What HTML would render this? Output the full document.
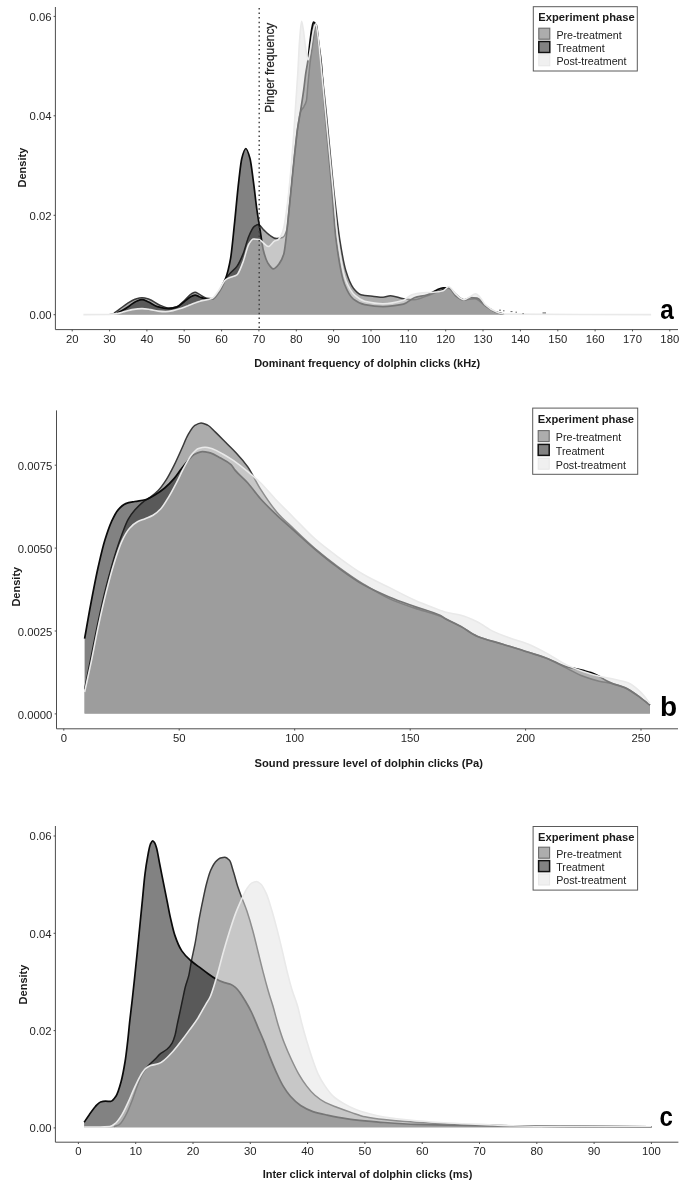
<!DOCTYPE html>
<html><head><meta charset="utf-8"><title>Density plots</title>
<style>
html,body{margin:0;padding:0;background:#fff;}
body{width:685px;height:1192px;overflow:hidden;}
svg{display:block;filter:grayscale(1);}
text{font-family:"Liberation Sans",sans-serif;}
.tk{font-size:11.3px;fill:#262626;}
.at{font-size:11px;font-weight:bold;fill:#1a1a1a;}
.lt{font-size:11.2px;font-weight:bold;fill:#1a1a1a;}
.ll{font-size:10.7px;fill:#222;}
.pl{font-size:28px;font-weight:bold;fill:#000;}
.pg{font-size:13px;fill:#222;}
</style></head><body>
<svg width="685" height="1192" viewBox="0 0 685 1192">
<rect width="685" height="1192" fill="#fff"/>
<!-- panel a -->
<path d="M83.4 314.6 L83.4 314.6C90.9 314.5 98.3 314.5 105.8 314.4C108.6 314.3 111.3 313.8 114.0 313.1C115.9 312.6 117.8 310.5 119.6 309.1C122.1 307.3 124.6 305.3 127.1 303.7C129.7 302.0 132.3 300.0 134.9 299.2C137.3 298.5 139.7 297.7 142.0 297.7C144.4 297.7 146.8 298.5 149.1 299.2C152.4 300.2 155.6 303.3 158.9 304.7C162.2 306.1 165.6 308.1 168.9 308.1C171.6 308.1 174.2 307.5 176.8 306.6C179.3 305.9 181.8 302.8 184.2 300.7C186.7 298.5 189.2 295.2 191.7 293.7C192.8 293.1 194.0 292.2 195.1 292.2C196.5 292.2 197.8 293.5 199.2 294.2C201.7 295.5 204.2 297.8 206.7 298.2C208.5 298.5 210.4 298.7 212.3 298.7C214.1 298.7 216.0 295.6 217.9 293.2C220.4 290.0 223.0 282.5 225.5 278.8C227.2 276.4 228.9 274.7 230.6 272.8C232.7 270.5 234.8 269.2 236.9 266.4C238.9 263.7 240.9 259.3 242.9 254.4C244.9 249.6 246.9 240.6 248.9 236.0C250.6 232.1 252.4 227.9 254.1 226.6C255.5 225.6 256.8 224.6 258.2 224.6C259.9 224.6 261.7 228.0 263.4 229.6C265.4 231.4 267.4 233.8 269.4 235.0C271.8 236.6 274.1 238.5 276.5 238.5C278.5 238.5 280.5 238.2 282.5 237.5C284.0 237.1 285.5 234.2 287.0 229.1C287.6 227.0 288.2 218.6 288.8 212.7C289.6 205.5 290.3 197.0 291.1 189.3C292.2 178.5 293.2 167.5 294.3 157.5C295.4 147.8 296.4 137.4 297.4 130.1C298.5 122.7 299.5 114.4 300.6 111.7C301.7 109.1 302.7 108.7 303.8 106.8C304.6 105.1 305.5 104.3 306.4 100.8C306.9 98.8 307.4 90.1 307.9 84.9C308.6 77.5 309.3 69.5 310.0 63.5C311.0 54.7 312.1 48.6 313.1 41.1C313.7 36.7 314.4 29.6 315.0 27.7C315.5 26.2 316.0 24.7 316.5 24.7C317.0 24.7 317.5 31.9 318.0 36.2C318.7 42.6 319.5 51.5 320.2 58.5C321.8 73.4 323.4 85.0 324.9 99.8C326.5 114.1 328.0 130.4 329.5 146.0C331.0 161.3 332.5 178.5 334.0 192.3C335.9 209.5 337.8 226.6 339.6 238.5C341.7 252.0 343.9 264.6 346.0 271.3C348.5 279.3 351.0 285.1 353.4 288.2C355.9 291.4 358.4 294.1 360.9 294.7C365.3 295.8 369.6 295.9 374.0 296.4C377.0 296.7 380.0 297.2 383.0 297.2C385.4 297.2 387.9 295.7 390.4 295.7C394.8 295.7 399.1 298.1 403.5 298.7C407.1 299.2 410.7 299.7 414.3 299.7C418.7 299.7 423.0 297.2 427.4 295.7C430.4 294.7 433.4 293.3 436.4 292.2C440.5 290.8 444.6 288.2 448.7 288.2C451.2 288.2 453.7 292.9 456.2 294.7C458.8 296.6 461.4 299.7 464.0 299.7C467.6 299.7 471.2 298.7 474.8 298.7C478.3 298.7 481.8 303.4 485.3 305.7C488.8 307.9 492.3 310.9 495.7 312.1C498.4 313.0 501.0 314.1 503.6 314.1C552.8 314.6 601.9 314.4 651.1 314.6L651.1 314.6Z" fill="#595959" fill-opacity="0.5"/>
<path d="M114.0 313.1C115.9 311.8 117.8 310.5 119.6 309.1C122.1 307.3 124.6 305.3 127.1 303.7C129.7 302.0 132.3 300.0 134.9 299.2C137.3 298.5 139.7 297.7 142.0 297.7C144.4 297.7 146.8 298.5 149.1 299.2C152.4 300.2 155.6 303.3 158.9 304.7C162.2 306.1 165.6 308.1 168.9 308.1C171.6 308.1 174.2 307.5 176.8 306.6C179.3 305.9 181.8 302.8 184.2 300.7C186.7 298.5 189.2 295.2 191.7 293.7C192.8 293.1 194.0 292.2 195.1 292.2C196.5 292.2 197.8 293.5 199.2 294.2C201.7 295.5 204.2 297.8 206.7 298.2C208.5 298.5 210.4 298.7 212.3 298.7C214.1 298.7 216.0 295.6 217.9 293.2C220.4 290.0 223.0 282.5 225.5 278.8C227.2 276.4 228.9 274.7 230.6 272.8C232.7 270.5 234.8 269.2 236.9 266.4C238.9 263.7 240.9 259.3 242.9 254.4C244.9 249.6 246.9 240.6 248.9 236.0C250.6 232.1 252.4 227.9 254.1 226.6C255.5 225.6 256.8 224.6 258.2 224.6C259.9 224.6 261.7 228.0 263.4 229.6C265.4 231.4 267.4 233.8 269.4 235.0C271.8 236.6 274.1 238.5 276.5 238.5C278.5 238.5 280.5 238.2 282.5 237.5C284.0 237.1 285.5 234.2 287.0 229.1C287.6 227.0 288.2 218.6 288.8 212.7C289.6 205.5 290.3 197.0 291.1 189.3C292.2 178.5 293.2 167.5 294.3 157.5C295.4 147.8 296.4 137.4 297.4 130.1C298.5 122.7 299.5 114.4 300.6 111.7C301.7 109.1 302.7 108.7 303.8 106.8C304.6 105.1 305.5 104.3 306.4 100.8C306.9 98.8 307.4 90.1 307.9 84.9C308.6 77.5 309.3 69.5 310.0 63.5C311.0 54.7 312.1 48.6 313.1 41.1C313.7 36.7 314.4 29.6 315.0 27.7C315.5 26.2 316.0 24.7 316.5 24.7C317.0 24.7 317.5 31.9 318.0 36.2C318.7 42.6 319.5 51.5 320.2 58.5C321.8 73.4 323.4 85.0 324.9 99.8C326.5 114.1 328.0 130.4 329.5 146.0C331.0 161.3 332.5 178.5 334.0 192.3C335.9 209.5 337.8 226.6 339.6 238.5C341.7 252.0 343.9 264.6 346.0 271.3C348.5 279.3 351.0 285.1 353.4 288.2C355.9 291.4 358.4 294.1 360.9 294.7C365.3 295.8 369.6 295.9 374.0 296.4C377.0 296.7 380.0 297.2 383.0 297.2C385.4 297.2 387.9 295.7 390.4 295.7C394.8 295.7 399.1 298.1 403.5 298.7C407.1 299.2 410.7 299.7 414.3 299.7C418.7 299.7 423.0 297.2 427.4 295.7C430.4 294.7 433.4 293.3 436.4 292.2C440.5 290.8 444.6 288.2 448.7 288.2C451.2 288.2 453.7 292.9 456.2 294.7C458.8 296.6 461.4 299.7 464.0 299.7C467.6 299.7 471.2 298.7 474.8 298.7C478.3 298.7 481.8 303.4 485.3 305.7C488.8 307.9 492.3 310.9 495.7 312.1C498.4 313.0 501.0 313.4 503.6 314.1" fill="none" stroke="#3a3a3a" stroke-width="1.5" stroke-linejoin="round"/>
<path d="M83.4 314.6 L83.4 314.6C90.9 314.5 98.3 314.5 105.8 314.4C109.5 314.3 113.3 313.8 117.0 313.1C119.0 312.7 121.0 311.3 123.0 310.1C125.2 308.9 127.5 307.1 129.7 305.7C132.0 304.2 134.2 302.0 136.4 301.2C138.3 300.5 140.2 299.7 142.0 299.7C144.0 299.7 146.0 300.9 148.0 301.7C151.1 302.9 154.2 305.8 157.4 306.6C161.2 307.7 165.1 308.6 168.9 308.6C171.6 308.6 174.2 307.9 176.8 307.1C179.3 306.4 181.8 303.5 184.2 301.7C186.7 299.8 189.2 297.2 191.7 296.2C192.8 295.8 194.0 295.2 195.1 295.2C196.5 295.2 197.8 296.2 199.2 296.7C201.7 297.6 204.2 299.2 206.7 299.2C208.5 299.2 210.4 299.2 212.3 299.2C214.1 299.2 216.0 296.1 217.9 293.7C220.4 290.5 223.0 285.7 225.5 278.8C227.2 274.3 228.9 267.9 230.6 258.4C231.9 250.7 233.3 234.5 234.7 221.6C236.0 208.7 237.4 192.5 238.8 180.9C239.8 172.4 240.8 162.2 241.8 158.5C243.1 153.3 244.5 148.5 245.9 148.5C247.2 148.5 248.6 153.5 250.0 158.5C251.1 162.5 252.2 172.7 253.3 180.9C254.6 189.9 255.8 202.4 257.1 211.2C258.2 219.1 259.3 225.1 260.4 232.1C261.4 238.2 262.4 246.5 263.4 250.5C264.8 256.0 266.2 260.2 267.5 262.4C269.5 265.6 271.5 268.9 273.5 268.9C275.4 268.9 277.3 266.3 279.1 263.9C280.7 261.9 282.2 259.2 283.8 253.9C285.2 249.2 286.6 232.8 288.0 220.1C289.0 210.8 290.1 199.1 291.1 188.8C292.2 178.1 293.2 167.0 294.3 157.0C295.4 147.3 296.4 137.0 297.4 129.6C298.5 122.1 299.5 117.4 300.6 110.7C301.6 104.2 302.7 97.4 303.7 89.9C304.4 84.7 305.1 77.8 305.8 73.0C306.5 68.3 307.2 65.5 307.9 60.5C308.6 55.4 309.3 47.2 310.0 41.6C310.7 36.5 311.3 30.8 312.0 27.7C312.5 25.4 313.0 22.2 313.5 22.2C313.9 22.2 314.2 22.5 314.6 22.7C315.1 23.1 315.6 24.6 316.1 26.2C317.0 29.1 317.8 37.4 318.7 43.6C319.6 49.8 320.5 54.9 321.3 63.5C322.2 72.1 323.1 88.9 323.9 99.8C325.3 117.0 326.7 130.6 328.0 146.0C329.4 161.5 330.8 176.1 332.2 192.3C333.4 207.0 334.6 228.7 335.9 238.5C338.8 261.0 341.6 277.0 344.5 284.3C347.5 291.9 350.5 296.9 353.4 299.2C357.2 302.1 360.9 304.0 364.7 304.7C370.8 305.8 376.9 306.6 383.0 306.6C389.8 306.6 396.6 305.6 403.5 304.2C407.1 303.4 410.7 298.9 414.3 297.7C418.7 296.2 423.0 296.1 427.4 294.7C430.4 293.8 433.4 291.5 436.4 290.2C438.6 289.3 440.8 287.8 443.1 287.8C445.0 287.8 446.8 287.8 448.7 287.8C451.2 287.8 453.7 294.5 456.2 296.2C458.8 298.0 461.4 300.2 464.0 300.2C466.2 300.2 468.5 297.7 470.7 297.7C472.8 297.7 475.0 297.9 477.1 298.2C479.8 298.6 482.6 303.6 485.3 305.7C488.8 308.2 492.3 310.9 495.7 312.1C498.4 313.0 501.0 314.0 503.6 314.1C509.2 314.3 514.8 314.4 520.4 314.5C564.0 314.6 607.5 314.6 651.1 314.6L651.1 314.6Z" fill="#060606" fill-opacity="0.5"/>
<path d="M117.0 313.1C119.0 312.1 121.0 311.3 123.0 310.1C125.2 308.9 127.5 307.1 129.7 305.7C132.0 304.2 134.2 302.0 136.4 301.2C138.3 300.5 140.2 299.7 142.0 299.7C144.0 299.7 146.0 300.9 148.0 301.7C151.1 302.9 154.2 305.8 157.4 306.6C161.2 307.7 165.1 308.6 168.9 308.6C171.6 308.6 174.2 307.9 176.8 307.1C179.3 306.4 181.8 303.5 184.2 301.7C186.7 299.8 189.2 297.2 191.7 296.2C192.8 295.8 194.0 295.2 195.1 295.2C196.5 295.2 197.8 296.2 199.2 296.7C201.7 297.6 204.2 299.2 206.7 299.2C208.5 299.2 210.4 299.2 212.3 299.2C214.1 299.2 216.0 296.1 217.9 293.7C220.4 290.5 223.0 285.7 225.5 278.8C227.2 274.3 228.9 267.9 230.6 258.4C231.9 250.7 233.3 234.5 234.7 221.6C236.0 208.7 237.4 192.5 238.8 180.9C239.8 172.4 240.8 162.2 241.8 158.5C243.1 153.3 244.5 148.5 245.9 148.5C247.2 148.5 248.6 153.5 250.0 158.5C251.1 162.5 252.2 172.7 253.3 180.9C254.6 189.9 255.8 202.4 257.1 211.2C258.2 219.1 259.3 225.1 260.4 232.1C261.4 238.2 262.4 246.5 263.4 250.5C264.8 256.0 266.2 260.2 267.5 262.4C269.5 265.6 271.5 268.9 273.5 268.9C275.4 268.9 277.3 266.3 279.1 263.9C280.7 261.9 282.2 259.2 283.8 253.9C285.2 249.2 286.6 232.8 288.0 220.1C289.0 210.8 290.1 199.1 291.1 188.8C292.2 178.1 293.2 167.0 294.3 157.0C295.4 147.3 296.4 137.0 297.4 129.6C298.5 122.1 299.5 117.4 300.6 110.7C301.6 104.2 302.7 97.4 303.7 89.9C304.4 84.7 305.1 77.8 305.8 73.0C306.5 68.3 307.2 65.5 307.9 60.5C308.6 55.4 309.3 47.2 310.0 41.6C310.7 36.5 311.3 30.8 312.0 27.7C312.5 25.4 313.0 22.2 313.5 22.2C313.9 22.2 314.2 22.5 314.6 22.7C315.1 23.1 315.6 24.6 316.1 26.2C317.0 29.1 317.8 37.4 318.7 43.6C319.6 49.8 320.5 54.9 321.3 63.5C322.2 72.1 323.1 88.9 323.9 99.8C325.3 117.0 326.7 130.6 328.0 146.0C329.4 161.5 330.8 176.1 332.2 192.3C333.4 207.0 334.6 228.7 335.9 238.5C338.8 261.0 341.6 277.0 344.5 284.3C347.5 291.9 350.5 296.9 353.4 299.2C357.2 302.1 360.9 304.0 364.7 304.7C370.8 305.8 376.9 306.6 383.0 306.6C389.8 306.6 396.6 305.6 403.5 304.2C407.1 303.4 410.7 298.9 414.3 297.7C418.7 296.2 423.0 296.1 427.4 294.7C430.4 293.8 433.4 291.5 436.4 290.2C438.6 289.3 440.8 287.8 443.1 287.8C445.0 287.8 446.8 287.8 448.7 287.8C451.2 287.8 453.7 294.5 456.2 296.2C458.8 298.0 461.4 300.2 464.0 300.2C466.2 300.2 468.5 297.7 470.7 297.7C472.8 297.7 475.0 297.9 477.1 298.2C479.8 298.6 482.6 303.6 485.3 305.7C488.8 308.2 492.3 310.9 495.7 312.1C498.4 313.0 501.0 313.4 503.6 314.1" fill="none" stroke="#0a0a0a" stroke-width="1.7" stroke-linejoin="round"/>
<path d="M83.4 314.6 L83.4 314.6C92.1 314.5 100.8 314.5 109.6 314.4C112.0 314.3 114.5 314.0 117.0 313.6C119.5 313.2 122.0 312.3 124.5 311.6C127.0 311.0 129.5 310.0 132.0 309.6C135.3 309.1 138.7 308.6 142.0 308.6C144.9 308.6 147.8 309.2 150.6 309.6C153.1 310.0 155.6 310.9 158.1 311.1C160.6 311.4 163.1 311.6 165.6 311.6C168.1 311.6 170.6 311.1 173.0 310.6C175.5 310.2 178.0 309.4 180.5 308.6C183.0 307.8 185.5 306.6 188.0 305.7C190.5 304.7 193.0 303.6 195.5 302.7C196.9 302.1 198.4 301.6 199.9 301.2C204.0 300.0 208.2 300.0 212.3 298.2C214.3 297.3 216.2 293.9 218.2 291.2C220.7 288.0 223.1 281.6 225.5 279.8C227.2 278.6 228.9 278.0 230.6 277.3C232.7 276.4 234.8 276.2 236.9 274.8C238.9 273.5 240.9 267.3 242.9 262.4C244.9 257.4 246.9 247.2 248.9 244.0C250.4 241.6 251.9 239.0 253.3 239.0C255.3 239.0 257.3 239.2 259.3 239.5C260.7 239.7 262.1 241.9 263.4 243.0C265.1 244.3 266.7 246.5 268.3 246.5C270.4 246.5 272.5 242.0 274.6 241.0C275.6 240.6 276.6 240.5 277.6 240.0C278.9 239.4 280.1 237.4 281.4 235.0C282.2 233.5 283.0 230.9 283.8 227.6C285.2 221.9 286.6 210.8 288.0 199.2C289.0 190.8 290.1 179.1 291.1 167.4C291.9 158.0 292.8 147.6 293.6 136.1C294.3 126.5 295.0 114.8 295.7 104.3C296.4 93.8 297.1 84.5 297.8 73.0C298.4 63.5 298.9 49.0 299.5 41.6C300.2 32.7 300.9 21.3 301.6 21.3C302.2 21.3 302.8 26.5 303.4 30.2C303.9 33.1 304.3 38.1 304.8 41.6C305.5 46.5 306.1 51.9 306.8 55.1C307.2 57.2 307.6 60.0 308.1 60.0C308.9 60.0 309.7 52.9 310.5 48.6C311.5 43.3 312.5 34.0 313.5 30.2C314.2 27.3 315.0 23.7 315.7 23.7C316.5 23.7 317.2 31.0 318.0 36.2C318.8 42.2 319.7 52.4 320.6 61.0C321.8 73.4 323.1 86.9 324.3 99.8C325.8 115.3 327.3 130.6 328.8 146.0C330.3 161.5 331.8 176.9 333.3 192.3C334.8 207.7 336.3 227.9 337.8 238.5C340.5 258.0 343.2 274.0 346.0 280.8C349.1 288.5 352.2 293.0 355.3 295.7C358.4 298.4 361.5 300.4 364.7 301.2C370.8 302.6 376.9 303.7 383.0 303.7C389.8 303.7 396.6 302.2 403.5 300.2C406.2 299.4 409.0 295.5 411.7 294.7C415.3 293.6 418.9 293.0 422.5 292.7C426.2 292.5 429.8 292.5 433.4 292.2C436.6 292.0 439.8 291.6 443.1 290.7C445.0 290.2 446.8 286.8 448.7 286.8C451.2 286.8 453.7 292.7 456.2 294.7C458.8 296.8 461.4 299.7 464.0 299.7C466.0 299.7 468.0 297.7 470.0 296.7C471.8 295.7 473.7 293.7 475.6 293.7C477.2 293.7 478.8 296.0 480.4 297.7C482.1 299.4 483.7 303.1 485.3 304.7C488.8 308.0 492.3 310.3 495.7 311.6C499.0 312.8 502.2 314.1 505.5 314.1C554.0 314.6 602.6 314.4 651.1 314.6L651.1 314.6Z" fill="#e1e1e1" fill-opacity="0.5"/>
<path d="M83.4 314.6C92.1 314.5 100.8 314.5 109.6 314.4C112.0 314.3 114.5 314.0 117.0 313.6C119.5 313.2 122.0 312.3 124.5 311.6C127.0 311.0 129.5 310.0 132.0 309.6C135.3 309.1 138.7 308.6 142.0 308.6C144.9 308.6 147.8 309.2 150.6 309.6C153.1 310.0 155.6 310.9 158.1 311.1C160.6 311.4 163.1 311.6 165.6 311.6C168.1 311.6 170.6 311.1 173.0 310.6C175.5 310.2 178.0 309.4 180.5 308.6C183.0 307.8 185.5 306.6 188.0 305.7C190.5 304.7 193.0 303.6 195.5 302.7C196.9 302.1 198.4 301.6 199.9 301.2C204.0 300.0 208.2 300.0 212.3 298.2C214.3 297.3 216.2 293.9 218.2 291.2C220.7 288.0 223.1 281.6 225.5 279.8C227.2 278.6 228.9 278.0 230.6 277.3C232.7 276.4 234.8 276.2 236.9 274.8C238.9 273.5 240.9 267.3 242.9 262.4C244.9 257.4 246.9 247.2 248.9 244.0C250.4 241.6 251.9 239.0 253.3 239.0C255.3 239.0 257.3 239.2 259.3 239.5C260.7 239.7 262.1 241.9 263.4 243.0C265.1 244.3 266.7 246.5 268.3 246.5C270.4 246.5 272.5 242.0 274.6 241.0C275.6 240.6 276.6 240.5 277.6 240.0C278.9 239.4 280.1 237.4 281.4 235.0C282.2 233.5 283.0 230.9 283.8 227.6C285.2 221.9 286.6 210.8 288.0 199.2C289.0 190.8 290.1 179.1 291.1 167.4C291.9 158.0 292.8 147.6 293.6 136.1C294.3 126.5 295.0 114.8 295.7 104.3C296.4 93.8 297.1 84.5 297.8 73.0C298.4 63.5 298.9 49.0 299.5 41.6C300.2 32.7 300.9 21.3 301.6 21.3C302.2 21.3 302.8 26.5 303.4 30.2C303.9 33.1 304.3 38.1 304.8 41.6C305.5 46.5 306.1 51.9 306.8 55.1C307.2 57.2 307.6 60.0 308.1 60.0C308.9 60.0 309.7 52.9 310.5 48.6C311.5 43.3 312.5 34.0 313.5 30.2C314.2 27.3 315.0 23.7 315.7 23.7C316.5 23.7 317.2 31.0 318.0 36.2C318.8 42.2 319.7 52.4 320.6 61.0C321.8 73.4 323.1 86.9 324.3 99.8C325.8 115.3 327.3 130.6 328.8 146.0C330.3 161.5 331.8 176.9 333.3 192.3C334.8 207.7 336.3 227.9 337.8 238.5C340.5 258.0 343.2 274.0 346.0 280.8C349.1 288.5 352.2 293.0 355.3 295.7C358.4 298.4 361.5 300.4 364.7 301.2C370.8 302.6 376.9 303.7 383.0 303.7C389.8 303.7 396.6 302.2 403.5 300.2C406.2 299.4 409.0 295.5 411.7 294.7C415.3 293.6 418.9 293.0 422.5 292.7C426.2 292.5 429.8 292.5 433.4 292.2C436.6 292.0 439.8 291.6 443.1 290.7C445.0 290.2 446.8 286.8 448.7 286.8C451.2 286.8 453.7 292.7 456.2 294.7C458.8 296.8 461.4 299.7 464.0 299.7C466.0 299.7 468.0 297.7 470.0 296.7C471.8 295.7 473.7 293.7 475.6 293.7C477.2 293.7 478.8 296.0 480.4 297.7C482.1 299.4 483.7 303.1 485.3 304.7C488.8 308.0 492.3 310.3 495.7 311.6C499.0 312.8 502.2 314.1 505.5 314.1C554.0 314.6 602.6 314.4 651.1 314.6" fill="none" stroke="#e9e9e9" stroke-width="1.6" stroke-linejoin="round"/>
<path d="M499 310.2h2M503 310.8h1.5M510.5 311.6h2M515.5 312.2h1.5M522.5 313.6h1.2M542.5 312.9h3.5" stroke="#666" stroke-width="1" fill="none"/>
<line x1="259.2" y1="8" x2="259.2" y2="329" stroke="#3a3a3a" stroke-width="1.4" stroke-dasharray="1.5 3.05"/>
<text class="pg" stroke="#222" stroke-width="0.25" transform="translate(274.2 112.7) rotate(-90)" textLength="90" lengthAdjust="spacingAndGlyphs">Pinger frequency</text>
<path d="M55.4 7V329.6H678" fill="none" stroke="#4d4d4d" stroke-width="1"/>
<line x1="53.6" x2="55.4" y1="314.7" y2="314.7" stroke="#4d4d4d" stroke-width="1"/><text class="tk" x="51.6" y="319.1" text-anchor="end">0.00</text>
<line x1="53.6" x2="55.4" y1="215.3" y2="215.3" stroke="#4d4d4d" stroke-width="1"/><text class="tk" x="51.6" y="219.7" text-anchor="end">0.02</text>
<line x1="53.6" x2="55.4" y1="115.8" y2="115.8" stroke="#4d4d4d" stroke-width="1"/><text class="tk" x="51.6" y="120.2" text-anchor="end">0.04</text>
<line x1="53.6" x2="55.4" y1="16.4" y2="16.4" stroke="#4d4d4d" stroke-width="1"/><text class="tk" x="51.6" y="20.8" text-anchor="end">0.06</text>
<line y1="329.6" y2="331.4" x1="72.2" x2="72.2" stroke="#4d4d4d" stroke-width="1"/><text class="tk" x="72.2" y="342.7" text-anchor="middle">20</text>
<line y1="329.6" y2="331.4" x1="109.6" x2="109.6" stroke="#4d4d4d" stroke-width="1"/><text class="tk" x="109.6" y="342.7" text-anchor="middle">30</text>
<line y1="329.6" y2="331.4" x1="146.9" x2="146.9" stroke="#4d4d4d" stroke-width="1"/><text class="tk" x="146.9" y="342.7" text-anchor="middle">40</text>
<line y1="329.6" y2="331.4" x1="184.2" x2="184.2" stroke="#4d4d4d" stroke-width="1"/><text class="tk" x="184.2" y="342.7" text-anchor="middle">50</text>
<line y1="329.6" y2="331.4" x1="221.6" x2="221.6" stroke="#4d4d4d" stroke-width="1"/><text class="tk" x="221.6" y="342.7" text-anchor="middle">60</text>
<line y1="329.6" y2="331.4" x1="258.9" x2="258.9" stroke="#4d4d4d" stroke-width="1"/><text class="tk" x="258.9" y="342.7" text-anchor="middle">70</text>
<line y1="329.6" y2="331.4" x1="296.3" x2="296.3" stroke="#4d4d4d" stroke-width="1"/><text class="tk" x="296.3" y="342.7" text-anchor="middle">80</text>
<line y1="329.6" y2="331.4" x1="333.6" x2="333.6" stroke="#4d4d4d" stroke-width="1"/><text class="tk" x="333.6" y="342.7" text-anchor="middle">90</text>
<line y1="329.6" y2="331.4" x1="371.0" x2="371.0" stroke="#4d4d4d" stroke-width="1"/><text class="tk" x="371.0" y="342.7" text-anchor="middle">100</text>
<line y1="329.6" y2="331.4" x1="408.3" x2="408.3" stroke="#4d4d4d" stroke-width="1"/><text class="tk" x="408.3" y="342.7" text-anchor="middle">110</text>
<line y1="329.6" y2="331.4" x1="445.7" x2="445.7" stroke="#4d4d4d" stroke-width="1"/><text class="tk" x="445.7" y="342.7" text-anchor="middle">120</text>
<line y1="329.6" y2="331.4" x1="483.0" x2="483.0" stroke="#4d4d4d" stroke-width="1"/><text class="tk" x="483.0" y="342.7" text-anchor="middle">130</text>
<line y1="329.6" y2="331.4" x1="520.4" x2="520.4" stroke="#4d4d4d" stroke-width="1"/><text class="tk" x="520.4" y="342.7" text-anchor="middle">140</text>
<line y1="329.6" y2="331.4" x1="557.8" x2="557.8" stroke="#4d4d4d" stroke-width="1"/><text class="tk" x="557.8" y="342.7" text-anchor="middle">150</text>
<line y1="329.6" y2="331.4" x1="595.1" x2="595.1" stroke="#4d4d4d" stroke-width="1"/><text class="tk" x="595.1" y="342.7" text-anchor="middle">160</text>
<line y1="329.6" y2="331.4" x1="632.5" x2="632.5" stroke="#4d4d4d" stroke-width="1"/><text class="tk" x="632.5" y="342.7" text-anchor="middle">170</text>
<line y1="329.6" y2="331.4" x1="669.8" x2="669.8" stroke="#4d4d4d" stroke-width="1"/><text class="tk" x="669.8" y="342.7" text-anchor="middle">180</text>
<text class="at" transform="translate(26.3 167.6) rotate(-90)" text-anchor="middle">Density</text>
<text class="at" x="367.2" y="366.6" text-anchor="middle">Dominant frequency of dolphin clicks (kHz)</text>
<text class="pl" transform="translate(660.2 319) scale(0.87 1)">a</text>
<g transform="translate(532.8 6.2)">
<rect x="0.5" y="0.5" width="104.0" height="64.3" fill="#fff" stroke="#5a5a5a" stroke-width="1"/>
<text x="5.5" y="15" class="lt">Experiment phase</text>
<rect x="6" y="22.0" width="11" height="11" fill="#adadad" stroke="#6a6a6a" stroke-width="1.1"/>
<text x="23.6" y="32.4" class="ll">Pre-treatment</text>
<rect x="6" y="35.3" width="11" height="11" fill="#828282" stroke="#111" stroke-width="1.5"/>
<text x="23.6" y="45.7" class="ll">Treatment</text>
<rect x="6" y="48.6" width="11" height="11" fill="#f0f0f0" stroke="#e6e6e6" stroke-width="1"/>
<text x="23.6" y="59.0" class="ll">Post-treatment</text>
</g>
<!-- panel b -->
<path d="M84.6 713.4 L84.6 689.4C86.6 679.4 88.6 669.5 90.6 659.5C93.2 646.5 95.8 632.7 98.4 620.6C101.0 608.5 103.6 597.1 106.2 586.8C108.8 576.5 111.4 566.8 114.0 558.2C116.6 549.6 119.2 541.7 121.8 534.8C124.0 529.0 126.1 523.0 128.3 519.2C130.5 515.4 132.6 512.6 134.8 510.1C137.4 507.1 140.0 504.4 142.6 502.3C145.2 500.2 147.8 499.0 150.4 497.1C153.0 495.2 155.6 493.3 158.2 490.6C160.8 487.9 163.4 484.2 166.0 480.2C168.6 476.2 171.2 471.1 173.8 465.9C176.4 460.7 179.0 454.7 181.6 449.0C183.8 444.3 185.9 438.4 188.1 434.7C190.3 431.0 192.4 426.9 194.6 425.6C196.8 424.3 198.9 423.0 201.1 423.0C203.3 423.0 205.4 424.1 207.6 425.1C210.2 426.3 212.8 429.6 215.4 432.1C218.9 435.4 222.3 439.0 225.8 442.5C229.3 446.0 232.7 449.1 236.2 452.9C240.1 457.1 243.9 461.4 247.8 466.9C252.1 473.0 256.4 482.7 260.7 489.4C266.0 497.7 271.4 505.7 276.7 511.9C282.1 518.2 287.4 522.7 292.8 527.9C300.3 535.1 307.8 542.4 315.3 548.8C322.8 555.2 330.3 561.0 337.8 566.5C346.4 572.8 354.9 578.8 363.5 584.1C372.0 589.4 380.6 594.8 389.1 598.6C397.7 602.5 406.2 605.3 414.8 608.2C423.4 611.1 431.9 612.8 440.5 616.3C442.0 616.9 443.5 617.8 445.0 618.5C450.3 621.1 455.7 623.7 461.0 626.6C466.4 629.5 471.7 634.0 477.1 636.2C485.7 639.8 494.2 641.5 502.8 644.2C511.4 646.9 519.9 649.5 528.5 652.3C534.9 654.4 541.4 656.1 547.8 658.7C554.2 661.3 560.6 665.1 567.0 668.3C572.4 671.0 577.7 674.3 583.1 676.3C588.4 678.3 593.8 680.0 599.1 681.2C603.4 682.1 607.7 682.4 612.0 683.4C616.3 684.4 620.5 685.8 624.8 687.6C629.1 689.4 633.4 692.6 637.7 695.6C641.8 698.4 645.8 702.0 649.9 705.2L649.9 713.4Z" fill="#595959" fill-opacity="0.5"/>
<path d="M84.6 689.4C86.6 679.4 88.6 669.5 90.6 659.5C93.2 646.5 95.8 632.7 98.4 620.6C101.0 608.5 103.6 597.1 106.2 586.8C108.8 576.5 111.4 566.8 114.0 558.2C116.6 549.6 119.2 541.7 121.8 534.8C124.0 529.0 126.1 523.0 128.3 519.2C130.5 515.4 132.6 512.6 134.8 510.1C137.4 507.1 140.0 504.4 142.6 502.3C145.2 500.2 147.8 499.0 150.4 497.1C153.0 495.2 155.6 493.3 158.2 490.6C160.8 487.9 163.4 484.2 166.0 480.2C168.6 476.2 171.2 471.1 173.8 465.9C176.4 460.7 179.0 454.7 181.6 449.0C183.8 444.3 185.9 438.4 188.1 434.7C190.3 431.0 192.4 426.9 194.6 425.6C196.8 424.3 198.9 423.0 201.1 423.0C203.3 423.0 205.4 424.1 207.6 425.1C210.2 426.3 212.8 429.6 215.4 432.1C218.9 435.4 222.3 439.0 225.8 442.5C229.3 446.0 232.7 449.1 236.2 452.9C240.1 457.1 243.9 461.4 247.8 466.9C252.1 473.0 256.4 482.7 260.7 489.4C266.0 497.7 271.4 505.7 276.7 511.9C282.1 518.2 287.4 522.7 292.8 527.9C300.3 535.1 307.8 542.4 315.3 548.8C322.8 555.2 330.3 561.0 337.8 566.5C346.4 572.8 354.9 578.8 363.5 584.1C372.0 589.4 380.6 594.8 389.1 598.6C397.7 602.5 406.2 605.3 414.8 608.2C423.4 611.1 431.9 612.8 440.5 616.3C442.0 616.9 443.5 617.8 445.0 618.5C450.3 621.1 455.7 623.7 461.0 626.6C466.4 629.5 471.7 634.0 477.1 636.2C485.7 639.8 494.2 641.5 502.8 644.2C511.4 646.9 519.9 649.5 528.5 652.3C534.9 654.4 541.4 656.1 547.8 658.7C554.2 661.3 560.6 665.1 567.0 668.3C572.4 671.0 577.7 674.3 583.1 676.3C588.4 678.3 593.8 680.0 599.1 681.2C603.4 682.1 607.7 682.4 612.0 683.4C616.3 684.4 620.5 685.8 624.8 687.6C629.1 689.4 633.4 692.6 637.7 695.6C641.8 698.4 645.8 702.0 649.9 705.2" fill="none" stroke="#3a3a3a" stroke-width="1.5" stroke-linejoin="round"/>
<path d="M84.6 713.4 L84.6 638.7C86.6 627.5 88.6 615.6 90.6 605.0C93.2 591.2 95.8 577.5 98.4 566.0C100.6 556.4 102.7 547.1 104.9 540.0C107.1 532.9 109.2 526.5 111.4 521.8C113.6 517.1 115.7 512.6 117.9 510.1C120.5 507.1 123.1 504.6 125.7 503.6C128.7 502.5 131.8 502.1 134.8 501.5C138.3 500.8 141.7 500.6 145.2 499.7C148.7 498.8 152.1 496.5 155.6 494.5C158.6 492.7 161.7 490.5 164.7 488.0C167.7 485.5 170.8 482.4 173.8 478.9C176.4 475.9 179.0 471.8 181.6 468.5C183.3 466.3 185.1 463.9 186.8 462.0C189.4 459.1 192.0 455.5 194.6 454.2C197.2 452.9 199.8 451.6 202.4 451.6C205.0 451.6 207.6 452.3 210.2 452.9C213.7 453.7 217.1 456.2 220.6 458.1C224.1 460.0 227.5 461.4 231.0 464.6C232.3 465.8 233.7 468.5 235.0 470.1C239.3 475.2 243.5 478.3 247.8 483.0C252.1 487.8 256.4 494.2 260.7 499.0C266.0 504.9 271.4 510.0 276.7 515.1C282.1 520.2 287.4 524.7 292.8 529.5C300.3 536.2 307.8 543.2 315.3 549.5C322.8 555.8 330.3 561.9 337.8 567.4C346.4 573.7 354.9 580.0 363.5 584.8C372.0 589.6 380.6 593.4 389.1 597.0C397.7 600.6 406.2 603.5 414.8 606.6C423.4 609.7 431.9 611.4 440.5 615.6C442.0 616.3 443.5 617.6 445.0 618.5C450.3 621.6 455.7 623.7 461.0 626.6C466.4 629.5 471.7 634.0 477.1 636.2C485.7 639.8 494.2 641.5 502.8 644.2C511.4 646.9 519.9 649.5 528.5 652.3C534.9 654.4 541.4 656.3 547.8 658.7C554.2 661.1 560.6 665.3 567.0 667.0C569.7 667.7 572.3 668.0 575.0 668.6C577.7 669.2 580.4 669.7 583.1 670.4C585.7 671.1 588.4 671.7 591.0 672.6C593.7 673.5 596.4 674.8 599.1 676.2C601.4 677.4 603.7 679.3 606.0 680.5C608.0 681.6 610.0 682.6 612.0 683.4C616.3 685.1 620.5 685.8 624.8 687.6C629.1 689.4 633.4 692.6 637.7 695.6C641.8 698.4 645.8 702.0 649.9 705.2L649.9 713.4Z" fill="#060606" fill-opacity="0.5"/>
<path d="M84.6 638.7C86.6 627.5 88.6 615.6 90.6 605.0C93.2 591.2 95.8 577.5 98.4 566.0C100.6 556.4 102.7 547.1 104.9 540.0C107.1 532.9 109.2 526.5 111.4 521.8C113.6 517.1 115.7 512.6 117.9 510.1C120.5 507.1 123.1 504.6 125.7 503.6C128.7 502.5 131.8 502.1 134.8 501.5C138.3 500.8 141.7 500.6 145.2 499.7C148.7 498.8 152.1 496.5 155.6 494.5C158.6 492.7 161.7 490.5 164.7 488.0C167.7 485.5 170.8 482.4 173.8 478.9C176.4 475.9 179.0 471.8 181.6 468.5C183.3 466.3 185.1 463.9 186.8 462.0C189.4 459.1 192.0 455.5 194.6 454.2C197.2 452.9 199.8 451.6 202.4 451.6C205.0 451.6 207.6 452.3 210.2 452.9C213.7 453.7 217.1 456.2 220.6 458.1C224.1 460.0 227.5 461.4 231.0 464.6C232.3 465.8 233.7 468.5 235.0 470.1C239.3 475.2 243.5 478.3 247.8 483.0C252.1 487.8 256.4 494.2 260.7 499.0C266.0 504.9 271.4 510.0 276.7 515.1C282.1 520.2 287.4 524.7 292.8 529.5C300.3 536.2 307.8 543.2 315.3 549.5C322.8 555.8 330.3 561.9 337.8 567.4C346.4 573.7 354.9 580.0 363.5 584.8C372.0 589.6 380.6 593.4 389.1 597.0C397.7 600.6 406.2 603.5 414.8 606.6C423.4 609.7 431.9 611.4 440.5 615.6C442.0 616.3 443.5 617.6 445.0 618.5C450.3 621.6 455.7 623.7 461.0 626.6C466.4 629.5 471.7 634.0 477.1 636.2C485.7 639.8 494.2 641.5 502.8 644.2C511.4 646.9 519.9 649.5 528.5 652.3C534.9 654.4 541.4 656.3 547.8 658.7C554.2 661.1 560.6 665.3 567.0 667.0C569.7 667.7 572.3 668.0 575.0 668.6C577.7 669.2 580.4 669.7 583.1 670.4C585.7 671.1 588.4 671.7 591.0 672.6C593.7 673.5 596.4 674.8 599.1 676.2C601.4 677.4 603.7 679.3 606.0 680.5C608.0 681.6 610.0 682.6 612.0 683.4C616.3 685.1 620.5 685.8 624.8 687.6C629.1 689.4 633.4 692.6 637.7 695.6C641.8 698.4 645.8 702.0 649.9 705.2" fill="none" stroke="#0a0a0a" stroke-width="1.7" stroke-linejoin="round"/>
<path d="M84.6 713.4 L84.6 692.0C86.6 682.9 88.6 674.2 90.6 664.7C93.2 652.4 95.8 637.9 98.4 625.8C101.0 613.7 103.6 602.3 106.2 592.0C108.8 581.7 111.4 571.7 114.0 563.4C116.6 555.1 119.2 546.8 121.8 541.3C124.4 535.8 127.0 531.2 129.6 528.3C132.2 525.4 134.8 523.2 137.4 521.8C140.0 520.4 142.6 519.8 145.2 518.7C147.8 517.6 150.4 516.8 153.0 515.3C155.6 513.8 158.2 511.6 160.8 508.8C163.4 506.0 166.0 501.4 168.6 497.1C171.2 492.8 173.8 487.8 176.4 482.8C179.0 477.8 181.6 471.9 184.2 467.2C186.8 462.5 189.4 457.2 192.0 454.2C194.2 451.7 196.3 449.2 198.5 448.5C200.7 447.8 202.8 447.2 205.0 447.2C207.6 447.2 210.2 448.2 212.8 449.0C216.3 450.1 219.7 452.3 223.2 454.2C226.7 456.1 230.1 458.3 233.6 460.7C238.3 464.0 243.1 467.8 247.8 471.7C252.1 475.2 256.4 478.8 260.7 483.0C266.0 488.2 271.4 495.0 276.7 500.6C282.1 506.2 287.4 511.3 292.8 516.7C300.3 524.2 307.8 532.6 315.3 539.2C322.8 545.8 330.3 551.3 337.8 556.8C346.4 563.1 354.9 569.5 363.5 574.5C372.0 579.5 380.6 583.1 389.1 587.4C397.7 591.7 406.2 596.4 414.8 600.2C423.4 604.0 431.9 607.1 440.5 610.4C442.0 611.0 443.5 611.7 445.0 612.1C450.3 613.6 455.7 613.9 461.0 615.3C466.4 616.7 471.7 619.1 477.1 621.7C482.5 624.3 487.8 628.8 493.2 631.4C498.5 634.0 503.9 635.9 509.2 637.8C515.6 640.1 522.1 641.6 528.5 644.2C534.9 646.8 541.4 650.4 547.8 653.9C554.2 657.4 560.6 662.1 567.0 665.1C572.4 667.6 577.7 669.7 583.1 671.5C588.4 673.3 593.8 675.0 599.1 676.3C604.5 677.6 609.8 678.3 615.2 679.5C619.5 680.5 623.7 681.2 628.0 682.8C632.3 684.4 636.6 688.3 640.9 692.4C643.9 695.2 646.9 699.9 649.9 703.6L649.9 713.4Z" fill="#e1e1e1" fill-opacity="0.5"/>
<path d="M84.6 692.0C86.6 682.9 88.6 674.2 90.6 664.7C93.2 652.4 95.8 637.9 98.4 625.8C101.0 613.7 103.6 602.3 106.2 592.0C108.8 581.7 111.4 571.7 114.0 563.4C116.6 555.1 119.2 546.8 121.8 541.3C124.4 535.8 127.0 531.2 129.6 528.3C132.2 525.4 134.8 523.2 137.4 521.8C140.0 520.4 142.6 519.8 145.2 518.7C147.8 517.6 150.4 516.8 153.0 515.3C155.6 513.8 158.2 511.6 160.8 508.8C163.4 506.0 166.0 501.4 168.6 497.1C171.2 492.8 173.8 487.8 176.4 482.8C179.0 477.8 181.6 471.9 184.2 467.2C186.8 462.5 189.4 457.2 192.0 454.2C194.2 451.7 196.3 449.2 198.5 448.5C200.7 447.8 202.8 447.2 205.0 447.2C207.6 447.2 210.2 448.2 212.8 449.0C216.3 450.1 219.7 452.3 223.2 454.2C226.7 456.1 230.1 458.3 233.6 460.7C238.3 464.0 243.1 467.8 247.8 471.7C252.1 475.2 256.4 478.8 260.7 483.0C266.0 488.2 271.4 495.0 276.7 500.6C282.1 506.2 287.4 511.3 292.8 516.7C300.3 524.2 307.8 532.6 315.3 539.2C322.8 545.8 330.3 551.3 337.8 556.8C346.4 563.1 354.9 569.5 363.5 574.5C372.0 579.5 380.6 583.1 389.1 587.4C397.7 591.7 406.2 596.4 414.8 600.2C423.4 604.0 431.9 607.1 440.5 610.4C442.0 611.0 443.5 611.7 445.0 612.1C450.3 613.6 455.7 613.9 461.0 615.3C466.4 616.7 471.7 619.1 477.1 621.7C482.5 624.3 487.8 628.8 493.2 631.4C498.5 634.0 503.9 635.9 509.2 637.8C515.6 640.1 522.1 641.6 528.5 644.2C534.9 646.8 541.4 650.4 547.8 653.9C554.2 657.4 560.6 662.1 567.0 665.1C572.4 667.6 577.7 669.7 583.1 671.5C588.4 673.3 593.8 675.0 599.1 676.3C604.5 677.6 609.8 678.3 615.2 679.5C619.5 680.5 623.7 681.2 628.0 682.8C632.3 684.4 636.6 688.3 640.9 692.4C643.9 695.2 646.9 699.9 649.9 703.6" fill="none" stroke="#e9e9e9" stroke-width="1.6" stroke-linejoin="round"/>
<path d="M56.5 410.4V728.8H678" fill="none" stroke="#4d4d4d" stroke-width="1"/>
<line x1="54.7" x2="56.5" y1="713.9" y2="713.9" stroke="#4d4d4d" stroke-width="1"/><text class="tk" x="52.3" y="718.5" text-anchor="end">0.0000</text>
<line x1="54.7" x2="56.5" y1="631.0" y2="631.0" stroke="#4d4d4d" stroke-width="1"/><text class="tk" x="52.3" y="635.6" text-anchor="end">0.0025</text>
<line x1="54.7" x2="56.5" y1="548.1" y2="548.1" stroke="#4d4d4d" stroke-width="1"/><text class="tk" x="52.3" y="552.7" text-anchor="end">0.0050</text>
<line x1="54.7" x2="56.5" y1="465.2" y2="465.2" stroke="#4d4d4d" stroke-width="1"/><text class="tk" x="52.3" y="469.8" text-anchor="end">0.0075</text>
<line y1="728.8" y2="730.6" x1="63.8" x2="63.8" stroke="#4d4d4d" stroke-width="1"/><text class="tk" x="63.8" y="742.2" text-anchor="middle">0</text>
<line y1="728.8" y2="730.6" x1="179.2" x2="179.2" stroke="#4d4d4d" stroke-width="1"/><text class="tk" x="179.2" y="742.2" text-anchor="middle">50</text>
<line y1="728.8" y2="730.6" x1="294.7" x2="294.7" stroke="#4d4d4d" stroke-width="1"/><text class="tk" x="294.7" y="742.2" text-anchor="middle">100</text>
<line y1="728.8" y2="730.6" x1="410.2" x2="410.2" stroke="#4d4d4d" stroke-width="1"/><text class="tk" x="410.2" y="742.2" text-anchor="middle">150</text>
<line y1="728.8" y2="730.6" x1="525.6" x2="525.6" stroke="#4d4d4d" stroke-width="1"/><text class="tk" x="525.6" y="742.2" text-anchor="middle">200</text>
<line y1="728.8" y2="730.6" x1="641.0" x2="641.0" stroke="#4d4d4d" stroke-width="1"/><text class="tk" x="641.0" y="742.2" text-anchor="middle">250</text>
<text class="at" transform="translate(19.6 586.7) rotate(-90)" text-anchor="middle">Density</text>
<text class="at" x="254.6" y="766.9" textLength="228.3" lengthAdjust="spacingAndGlyphs">Sound pressure level of dolphin clicks (Pa)</text>
<text class="pl" x="660" y="715.8">b</text>
<g transform="translate(532.2 407.6)">
<rect x="0.5" y="0.5" width="105.0" height="66.2" fill="#fff" stroke="#5a5a5a" stroke-width="1"/>
<text x="5.5" y="15" class="lt">Experiment phase</text>
<rect x="6" y="23.0" width="11" height="11" fill="#adadad" stroke="#6a6a6a" stroke-width="1.1"/>
<text x="23.6" y="33.4" class="ll">Pre-treatment</text>
<rect x="6" y="36.8" width="11" height="11" fill="#828282" stroke="#111" stroke-width="1.5"/>
<text x="23.6" y="47.2" class="ll">Treatment</text>
<rect x="6" y="50.6" width="11" height="11" fill="#f0f0f0" stroke="#e6e6e6" stroke-width="1"/>
<text x="23.6" y="61.0" class="ll">Post-treatment</text>
</g>
<!-- panel c -->
<path d="M84.1 1127.3 L84.1 1127.0C92.1 1127.0 100.0 1127.0 108.0 1127.0C110.0 1127.0 112.0 1126.8 114.0 1126.6C115.6 1126.4 117.3 1125.8 118.9 1124.9C121.3 1123.6 123.7 1119.0 126.1 1114.7C128.1 1111.1 130.2 1105.6 132.2 1100.4C133.9 1096.0 135.6 1090.5 137.3 1086.1C139.0 1081.7 140.7 1076.8 142.4 1073.8C144.1 1070.7 145.9 1068.6 147.6 1066.6C150.0 1063.8 152.3 1061.9 154.7 1059.5C156.7 1057.5 158.8 1055.0 160.8 1053.4C162.9 1051.8 164.9 1051.1 167.0 1049.3C168.7 1047.8 170.4 1046.0 172.1 1043.1C173.1 1041.4 174.1 1038.5 175.1 1035.0C175.8 1032.5 176.5 1028.0 177.2 1024.7C178.2 1019.8 179.3 1015.2 180.3 1010.4C181.3 1005.7 182.3 1000.7 183.3 996.1C184.0 993.0 184.6 989.6 185.3 987.0C186.5 982.5 187.6 980.3 188.8 975.4C189.7 971.6 190.6 965.1 191.5 960.5C192.7 954.5 193.8 950.0 195.0 943.9C196.5 936.2 197.9 925.6 199.4 917.6C200.6 911.3 201.7 905.6 202.9 900.1C204.1 894.6 205.2 888.7 206.4 884.3C207.8 878.8 209.3 873.6 210.7 870.3C212.2 866.9 213.6 864.1 215.1 862.4C216.9 860.4 218.6 858.5 220.4 858.0C221.9 857.6 223.3 857.2 224.8 857.2C226.4 857.2 227.9 858.6 229.5 860.3C230.9 861.8 232.2 868.0 233.6 872.3C235.0 876.6 236.3 882.4 237.7 886.6C239.1 890.8 240.4 894.2 241.8 897.8C243.5 902.3 245.2 906.1 246.9 911.1C248.9 917.0 251.0 924.1 253.0 931.5C254.7 937.7 256.4 945.2 258.1 952.0C259.8 958.8 261.5 965.9 263.2 972.4C264.9 979.0 266.7 985.6 268.4 991.5C269.9 996.8 271.5 1001.1 273.0 1006.3C274.7 1012.1 276.4 1019.1 278.1 1024.7C280.2 1031.5 282.2 1037.7 284.3 1043.1C286.7 1049.3 289.0 1054.4 291.4 1059.5C293.8 1064.6 296.2 1069.7 298.6 1073.8C301.3 1078.5 304.0 1082.6 306.7 1086.1C309.4 1089.6 312.2 1092.9 314.9 1095.3C318.3 1098.2 321.7 1100.6 325.1 1102.4C329.2 1104.5 333.3 1105.9 337.4 1107.5C342.2 1109.3 346.9 1111.0 351.7 1112.6C356.1 1114.1 360.6 1115.9 365.0 1116.8C371.4 1118.1 377.8 1118.9 384.2 1119.6C394.9 1120.8 405.6 1121.6 416.3 1122.3C427.0 1123.0 437.8 1123.4 448.5 1123.9C459.2 1124.4 469.9 1125.0 480.6 1125.2C507.1 1125.8 533.5 1126.1 560.0 1126.3C590.5 1126.5 620.9 1126.6 651.4 1126.8L651.4 1127.3Z" fill="#595959" fill-opacity="0.5"/>
<path d="M114.0 1126.6C115.6 1126.0 117.3 1125.8 118.9 1124.9C121.3 1123.6 123.7 1119.0 126.1 1114.7C128.1 1111.1 130.2 1105.6 132.2 1100.4C133.9 1096.0 135.6 1090.5 137.3 1086.1C139.0 1081.7 140.7 1076.8 142.4 1073.8C144.1 1070.7 145.9 1068.6 147.6 1066.6C150.0 1063.8 152.3 1061.9 154.7 1059.5C156.7 1057.5 158.8 1055.0 160.8 1053.4C162.9 1051.8 164.9 1051.1 167.0 1049.3C168.7 1047.8 170.4 1046.0 172.1 1043.1C173.1 1041.4 174.1 1038.5 175.1 1035.0C175.8 1032.5 176.5 1028.0 177.2 1024.7C178.2 1019.8 179.3 1015.2 180.3 1010.4C181.3 1005.7 182.3 1000.7 183.3 996.1C184.0 993.0 184.6 989.6 185.3 987.0C186.5 982.5 187.6 980.3 188.8 975.4C189.7 971.6 190.6 965.1 191.5 960.5C192.7 954.5 193.8 950.0 195.0 943.9C196.5 936.2 197.9 925.6 199.4 917.6C200.6 911.3 201.7 905.6 202.9 900.1C204.1 894.6 205.2 888.7 206.4 884.3C207.8 878.8 209.3 873.6 210.7 870.3C212.2 866.9 213.6 864.1 215.1 862.4C216.9 860.4 218.6 858.5 220.4 858.0C221.9 857.6 223.3 857.2 224.8 857.2C226.4 857.2 227.9 858.6 229.5 860.3C230.9 861.8 232.2 868.0 233.6 872.3C235.0 876.6 236.3 882.4 237.7 886.6C239.1 890.8 240.4 894.2 241.8 897.8C243.5 902.3 245.2 906.1 246.9 911.1C248.9 917.0 251.0 924.1 253.0 931.5C254.7 937.7 256.4 945.2 258.1 952.0C259.8 958.8 261.5 965.9 263.2 972.4C264.9 979.0 266.7 985.6 268.4 991.5C269.9 996.8 271.5 1001.1 273.0 1006.3C274.7 1012.1 276.4 1019.1 278.1 1024.7C280.2 1031.5 282.2 1037.7 284.3 1043.1C286.7 1049.3 289.0 1054.4 291.4 1059.5C293.8 1064.6 296.2 1069.7 298.6 1073.8C301.3 1078.5 304.0 1082.6 306.7 1086.1C309.4 1089.6 312.2 1092.9 314.9 1095.3C318.3 1098.2 321.7 1100.6 325.1 1102.4C329.2 1104.5 333.3 1105.9 337.4 1107.5C342.2 1109.3 346.9 1111.0 351.7 1112.6C356.1 1114.1 360.6 1115.9 365.0 1116.8C371.4 1118.1 377.8 1118.9 384.2 1119.6C394.9 1120.8 405.6 1121.6 416.3 1122.3C427.0 1123.0 437.8 1123.4 448.5 1123.9C459.2 1124.4 469.9 1125.0 480.6 1125.2C507.1 1125.8 533.5 1126.1 560.0 1126.3C590.5 1126.5 620.9 1126.6 651.4 1126.8" fill="none" stroke="#3a3a3a" stroke-width="1.5" stroke-linejoin="round"/>
<path d="M84.1 1127.3 L84.1 1122.3C85.8 1119.8 87.6 1117.1 89.3 1114.7C91.3 1111.8 93.4 1108.7 95.4 1106.5C97.1 1104.7 98.8 1102.5 100.5 1102.0C102.2 1101.5 103.8 1101.2 105.5 1101.2C107.3 1101.2 109.0 1101.4 110.8 1101.4C112.5 1101.4 114.2 1098.8 115.9 1096.3C117.6 1093.8 119.3 1088.2 121.0 1082.0C122.4 1077.0 123.7 1070.0 125.1 1061.5C126.0 1056.1 126.8 1048.7 127.7 1041.1C128.4 1035.0 129.1 1027.1 129.8 1020.7C130.6 1013.4 131.4 1007.3 132.2 1000.2C133.0 993.4 133.7 986.2 134.5 978.9C135.4 970.4 136.3 961.5 137.2 952.6C138.1 944.0 138.9 935.1 139.8 926.4C140.7 917.7 141.5 908.9 142.4 900.1C143.3 891.3 144.1 880.7 145.0 873.8C145.9 866.7 146.8 861.1 147.7 856.3C148.6 851.7 149.4 846.5 150.3 844.5C151.1 842.7 151.8 840.9 152.6 840.9C153.3 840.9 153.9 841.9 154.6 842.8C155.2 843.6 155.8 845.5 156.4 847.5C157.6 851.4 158.7 859.2 159.9 865.0C161.1 870.8 162.2 876.8 163.4 882.6C164.6 888.4 165.7 894.3 166.9 900.1C168.1 905.9 169.2 912.4 170.4 917.6C171.9 924.1 173.3 930.8 174.8 935.1C177.1 942.0 179.5 947.4 181.8 950.9C184.7 955.3 187.7 957.9 190.6 960.5C194.1 963.6 197.6 965.8 201.1 968.4C203.4 970.2 205.8 972.1 208.1 973.7C210.7 975.6 213.4 977.5 216.0 978.9C218.8 980.4 221.6 981.7 224.4 982.6C226.4 983.3 228.5 983.5 230.5 984.3C232.2 985.0 234.0 986.2 235.7 987.7C237.4 989.1 239.1 991.6 240.8 993.9C242.4 996.1 244.0 998.8 245.6 1001.5C247.6 1004.9 249.6 1008.4 251.6 1012.5C253.6 1016.7 255.7 1022.0 257.7 1026.8C259.7 1031.6 261.8 1036.1 263.8 1041.1C265.9 1046.2 267.9 1052.3 270.0 1057.4C272.0 1062.5 274.1 1067.4 276.1 1071.8C278.5 1077.0 280.8 1082.2 283.2 1086.1C285.6 1090.1 288.0 1093.6 290.4 1096.3C293.8 1100.1 297.2 1103.3 300.6 1105.5C304.7 1108.1 308.8 1110.2 312.9 1111.6C317.7 1113.2 322.4 1114.1 327.2 1115.1C334.0 1116.5 340.8 1117.8 347.6 1118.8C353.4 1119.6 359.2 1120.2 365.0 1120.8C371.4 1121.4 377.8 1122.0 384.2 1122.5C394.9 1123.3 405.6 1124.1 416.3 1124.4C437.5 1125.0 458.8 1125.3 480.0 1125.6C506.7 1125.9 533.3 1126.1 560.0 1126.3C590.5 1126.5 620.9 1126.6 651.4 1126.8L651.4 1127.3Z" fill="#060606" fill-opacity="0.5"/>
<path d="M84.1 1122.3C85.8 1119.8 87.6 1117.1 89.3 1114.7C91.3 1111.8 93.4 1108.7 95.4 1106.5C97.1 1104.7 98.8 1102.5 100.5 1102.0C102.2 1101.5 103.8 1101.2 105.5 1101.2C107.3 1101.2 109.0 1101.4 110.8 1101.4C112.5 1101.4 114.2 1098.8 115.9 1096.3C117.6 1093.8 119.3 1088.2 121.0 1082.0C122.4 1077.0 123.7 1070.0 125.1 1061.5C126.0 1056.1 126.8 1048.7 127.7 1041.1C128.4 1035.0 129.1 1027.1 129.8 1020.7C130.6 1013.4 131.4 1007.3 132.2 1000.2C133.0 993.4 133.7 986.2 134.5 978.9C135.4 970.4 136.3 961.5 137.2 952.6C138.1 944.0 138.9 935.1 139.8 926.4C140.7 917.7 141.5 908.9 142.4 900.1C143.3 891.3 144.1 880.7 145.0 873.8C145.9 866.7 146.8 861.1 147.7 856.3C148.6 851.7 149.4 846.5 150.3 844.5C151.1 842.7 151.8 840.9 152.6 840.9C153.3 840.9 153.9 841.9 154.6 842.8C155.2 843.6 155.8 845.5 156.4 847.5C157.6 851.4 158.7 859.2 159.9 865.0C161.1 870.8 162.2 876.8 163.4 882.6C164.6 888.4 165.7 894.3 166.9 900.1C168.1 905.9 169.2 912.4 170.4 917.6C171.9 924.1 173.3 930.8 174.8 935.1C177.1 942.0 179.5 947.4 181.8 950.9C184.7 955.3 187.7 957.9 190.6 960.5C194.1 963.6 197.6 965.8 201.1 968.4C203.4 970.2 205.8 972.1 208.1 973.7C210.7 975.6 213.4 977.5 216.0 978.9C218.8 980.4 221.6 981.7 224.4 982.6C226.4 983.3 228.5 983.5 230.5 984.3C232.2 985.0 234.0 986.2 235.7 987.7C237.4 989.1 239.1 991.6 240.8 993.9C242.4 996.1 244.0 998.8 245.6 1001.5C247.6 1004.9 249.6 1008.4 251.6 1012.5C253.6 1016.7 255.7 1022.0 257.7 1026.8C259.7 1031.6 261.8 1036.1 263.8 1041.1C265.9 1046.2 267.9 1052.3 270.0 1057.4C272.0 1062.5 274.1 1067.4 276.1 1071.8C278.5 1077.0 280.8 1082.2 283.2 1086.1C285.6 1090.1 288.0 1093.6 290.4 1096.3C293.8 1100.1 297.2 1103.3 300.6 1105.5C304.7 1108.1 308.8 1110.2 312.9 1111.6C317.7 1113.2 322.4 1114.1 327.2 1115.1C334.0 1116.5 340.8 1117.8 347.6 1118.8C353.4 1119.6 359.2 1120.2 365.0 1120.8C371.4 1121.4 377.8 1122.0 384.2 1122.5C394.9 1123.3 405.6 1124.1 416.3 1124.4C437.5 1125.0 458.8 1125.3 480.0 1125.6C506.7 1125.9 533.3 1126.1 560.0 1126.3C590.5 1126.5 620.9 1126.6 651.4 1126.8" fill="none" stroke="#0a0a0a" stroke-width="1.7" stroke-linejoin="round"/>
<path d="M84.1 1127.3 L84.1 1127.0C89.4 1127.0 94.7 1127.0 100.0 1127.0C103.2 1127.0 106.5 1126.8 109.7 1126.5C111.8 1126.3 113.8 1124.5 115.9 1122.8C117.9 1121.1 120.0 1118.0 122.0 1114.7C124.0 1111.4 126.1 1106.8 128.1 1102.4C130.2 1098.0 132.2 1092.5 134.3 1088.1C136.3 1083.7 138.4 1079.1 140.4 1075.8C142.1 1073.0 143.8 1070.1 145.5 1068.7C147.2 1067.3 148.9 1066.2 150.6 1065.6C153.3 1064.6 156.1 1064.6 158.8 1063.6C160.8 1062.9 162.9 1061.1 164.9 1059.5C167.6 1057.3 170.4 1054.3 173.1 1051.3C175.8 1048.3 178.6 1044.7 181.3 1041.1C184.0 1037.5 186.8 1033.7 189.5 1029.9C192.2 1026.2 194.9 1022.8 197.6 1018.6C200.3 1014.4 203.1 1009.0 205.8 1004.3C207.2 1001.8 208.7 1000.1 210.1 997.0C212.1 992.6 214.2 985.2 216.2 978.5C218.6 970.5 221.0 960.4 223.4 952.0C225.4 944.9 227.5 937.9 229.5 931.5C231.6 925.0 233.6 918.5 235.7 913.1C237.7 907.8 239.8 903.2 241.8 898.8C243.5 895.1 245.2 891.0 246.9 888.6C248.6 886.2 250.3 883.7 252.0 882.9C253.5 882.2 255.0 881.5 256.5 881.5C258.1 881.5 259.6 883.0 261.2 884.5C262.9 886.1 264.6 889.9 266.3 893.7C268.0 897.5 269.7 903.4 271.4 909.0C273.1 914.6 274.8 920.9 276.5 927.4C278.2 933.9 279.9 940.8 281.6 947.9C283.3 955.1 285.1 963.4 286.8 970.4C288.5 977.2 290.2 983.9 291.9 989.5C293.8 995.8 295.7 999.7 297.6 1006.3C298.9 1010.9 300.3 1017.6 301.6 1022.7C303.3 1029.2 305.0 1035.4 306.7 1041.1C308.4 1046.9 310.2 1052.4 311.9 1057.4C313.9 1063.3 316.0 1069.5 318.0 1073.8C320.4 1078.8 322.7 1082.7 325.1 1086.1C327.8 1090.1 330.6 1093.8 333.3 1096.3C336.7 1099.4 340.1 1101.4 343.5 1103.4C347.6 1105.8 351.7 1108.0 355.8 1109.6C358.9 1110.8 361.9 1111.8 365.0 1112.6C371.4 1114.4 377.8 1116.0 384.2 1117.0C394.9 1118.7 405.6 1119.9 416.3 1120.8C427.0 1121.7 437.8 1122.4 448.5 1123.0C459.2 1123.6 469.9 1124.0 480.6 1124.4C491.3 1124.8 502.0 1125.5 512.7 1125.7C528.5 1126.1 544.2 1126.3 560.0 1126.4C590.5 1126.6 620.9 1126.7 651.4 1126.8L651.4 1127.3Z" fill="#e1e1e1" fill-opacity="0.5"/>
<path d="M84.1 1127.0C89.4 1127.0 94.7 1127.0 100.0 1127.0C103.2 1127.0 106.5 1126.8 109.7 1126.5C111.8 1126.3 113.8 1124.5 115.9 1122.8C117.9 1121.1 120.0 1118.0 122.0 1114.7C124.0 1111.4 126.1 1106.8 128.1 1102.4C130.2 1098.0 132.2 1092.5 134.3 1088.1C136.3 1083.7 138.4 1079.1 140.4 1075.8C142.1 1073.0 143.8 1070.1 145.5 1068.7C147.2 1067.3 148.9 1066.2 150.6 1065.6C153.3 1064.6 156.1 1064.6 158.8 1063.6C160.8 1062.9 162.9 1061.1 164.9 1059.5C167.6 1057.3 170.4 1054.3 173.1 1051.3C175.8 1048.3 178.6 1044.7 181.3 1041.1C184.0 1037.5 186.8 1033.7 189.5 1029.9C192.2 1026.2 194.9 1022.8 197.6 1018.6C200.3 1014.4 203.1 1009.0 205.8 1004.3C207.2 1001.8 208.7 1000.1 210.1 997.0C212.1 992.6 214.2 985.2 216.2 978.5C218.6 970.5 221.0 960.4 223.4 952.0C225.4 944.9 227.5 937.9 229.5 931.5C231.6 925.0 233.6 918.5 235.7 913.1C237.7 907.8 239.8 903.2 241.8 898.8C243.5 895.1 245.2 891.0 246.9 888.6C248.6 886.2 250.3 883.7 252.0 882.9C253.5 882.2 255.0 881.5 256.5 881.5C258.1 881.5 259.6 883.0 261.2 884.5C262.9 886.1 264.6 889.9 266.3 893.7C268.0 897.5 269.7 903.4 271.4 909.0C273.1 914.6 274.8 920.9 276.5 927.4C278.2 933.9 279.9 940.8 281.6 947.9C283.3 955.1 285.1 963.4 286.8 970.4C288.5 977.2 290.2 983.9 291.9 989.5C293.8 995.8 295.7 999.7 297.6 1006.3C298.9 1010.9 300.3 1017.6 301.6 1022.7C303.3 1029.2 305.0 1035.4 306.7 1041.1C308.4 1046.9 310.2 1052.4 311.9 1057.4C313.9 1063.3 316.0 1069.5 318.0 1073.8C320.4 1078.8 322.7 1082.7 325.1 1086.1C327.8 1090.1 330.6 1093.8 333.3 1096.3C336.7 1099.4 340.1 1101.4 343.5 1103.4C347.6 1105.8 351.7 1108.0 355.8 1109.6C358.9 1110.8 361.9 1111.8 365.0 1112.6C371.4 1114.4 377.8 1116.0 384.2 1117.0C394.9 1118.7 405.6 1119.9 416.3 1120.8C427.0 1121.7 437.8 1122.4 448.5 1123.0C459.2 1123.6 469.9 1124.0 480.6 1124.4C491.3 1124.8 502.0 1125.5 512.7 1125.7C528.5 1126.1 544.2 1126.3 560.0 1126.4C590.5 1126.6 620.9 1126.7 651.4 1126.8" fill="none" stroke="#e9e9e9" stroke-width="1.6" stroke-linejoin="round"/>
<path d="M55.4 826V1142.2H678.4" fill="none" stroke="#4d4d4d" stroke-width="1"/>
<line x1="53.6" x2="55.4" y1="1127.9" y2="1127.9" stroke="#4d4d4d" stroke-width="1"/><text class="tk" x="51.6" y="1132.3" text-anchor="end">0.00</text>
<line x1="53.6" x2="55.4" y1="1030.6" y2="1030.6" stroke="#4d4d4d" stroke-width="1"/><text class="tk" x="51.6" y="1035.0" text-anchor="end">0.02</text>
<line x1="53.6" x2="55.4" y1="933.3" y2="933.3" stroke="#4d4d4d" stroke-width="1"/><text class="tk" x="51.6" y="937.7" text-anchor="end">0.04</text>
<line x1="53.6" x2="55.4" y1="836.0" y2="836.0" stroke="#4d4d4d" stroke-width="1"/><text class="tk" x="51.6" y="840.4" text-anchor="end">0.06</text>
<line y1="1142.2" y2="1144" x1="78.4" x2="78.4" stroke="#4d4d4d" stroke-width="1"/><text class="tk" x="78.4" y="1155.2" text-anchor="middle">0</text>
<line y1="1142.2" y2="1144" x1="135.7" x2="135.7" stroke="#4d4d4d" stroke-width="1"/><text class="tk" x="135.7" y="1155.2" text-anchor="middle">10</text>
<line y1="1142.2" y2="1144" x1="193.0" x2="193.0" stroke="#4d4d4d" stroke-width="1"/><text class="tk" x="193.0" y="1155.2" text-anchor="middle">20</text>
<line y1="1142.2" y2="1144" x1="250.3" x2="250.3" stroke="#4d4d4d" stroke-width="1"/><text class="tk" x="250.3" y="1155.2" text-anchor="middle">30</text>
<line y1="1142.2" y2="1144" x1="307.6" x2="307.6" stroke="#4d4d4d" stroke-width="1"/><text class="tk" x="307.6" y="1155.2" text-anchor="middle">40</text>
<line y1="1142.2" y2="1144" x1="364.9" x2="364.9" stroke="#4d4d4d" stroke-width="1"/><text class="tk" x="364.9" y="1155.2" text-anchor="middle">50</text>
<line y1="1142.2" y2="1144" x1="422.2" x2="422.2" stroke="#4d4d4d" stroke-width="1"/><text class="tk" x="422.2" y="1155.2" text-anchor="middle">60</text>
<line y1="1142.2" y2="1144" x1="479.5" x2="479.5" stroke="#4d4d4d" stroke-width="1"/><text class="tk" x="479.5" y="1155.2" text-anchor="middle">70</text>
<line y1="1142.2" y2="1144" x1="536.8" x2="536.8" stroke="#4d4d4d" stroke-width="1"/><text class="tk" x="536.8" y="1155.2" text-anchor="middle">80</text>
<line y1="1142.2" y2="1144" x1="594.1" x2="594.1" stroke="#4d4d4d" stroke-width="1"/><text class="tk" x="594.1" y="1155.2" text-anchor="middle">90</text>
<line y1="1142.2" y2="1144" x1="651.4" x2="651.4" stroke="#4d4d4d" stroke-width="1"/><text class="tk" x="651.4" y="1155.2" text-anchor="middle">100</text>
<text class="at" transform="translate(26.5 984.5) rotate(-90)" text-anchor="middle">Density</text>
<text class="at" x="367.5" y="1178" text-anchor="middle">Inter click interval of dolphin clicks (ms)</text>
<text class="pl" transform="translate(659.6 1125.8) scale(0.86 1)">c</text>
<g transform="translate(532.6 826.0)">
<rect x="0.5" y="0.5" width="104.5" height="63.6" fill="#fff" stroke="#5a5a5a" stroke-width="1"/>
<text x="5.5" y="15" class="lt">Experiment phase</text>
<rect x="6" y="21.2" width="11" height="11" fill="#adadad" stroke="#6a6a6a" stroke-width="1.1"/>
<text x="23.6" y="31.6" class="ll">Pre-treatment</text>
<rect x="6" y="34.6" width="11" height="11" fill="#828282" stroke="#111" stroke-width="1.5"/>
<text x="23.6" y="45.0" class="ll">Treatment</text>
<rect x="6" y="48.0" width="11" height="11" fill="#f0f0f0" stroke="#e6e6e6" stroke-width="1"/>
<text x="23.6" y="58.4" class="ll">Post-treatment</text>
</g>
</svg>
</body></html>
